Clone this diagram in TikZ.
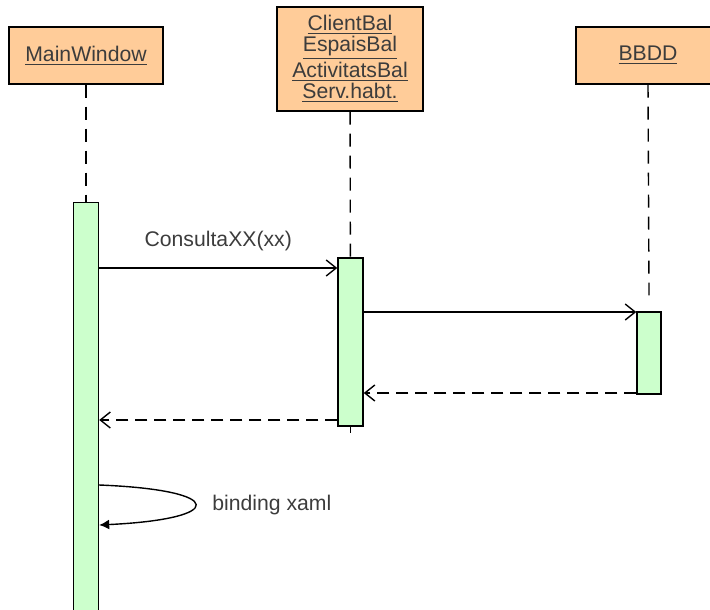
\documentclass[tikz,border=0pt]{standalone}
\usepackage{fontspec}
\setmainfont{Liberation Sans}
\usetikzlibrary{arrows.meta}
\definecolor{objfill}{RGB}{255,204,153}
\definecolor{actfill}{RGB}{204,255,204}
\definecolor{labelgray}{RGB}{60,60,60}
\begin{document}
\begin{tikzpicture}[x=0.5pt,y=-0.5pt,line width=0.7pt,
    font=\fontsize{10.6}{10.6}\selectfont,text=labelgray,
    obj/.style={draw,fill=objfill,inner sep=0pt,align=center},
    act/.style={draw,fill=actfill,inner sep=0pt,minimum width=12.5pt},
    life/.style={dash pattern=on 6.5pt off 4.5pt},
    call/.style={-{Straight Barb[length=5pt,width=8pt]}},
    back/.style={-{Straight Barb[length=5pt,width=8pt]},dash pattern=on 6pt off 3.5pt},
    self/.style={-{Latex[length=5pt,width=5pt]}}]

          \useasboundingbox (0,0) rectangle (710,609);

          \node[obj,minimum width=77pt,minimum height=28.5pt]  (mw) at (86,55.5)  {\underline{MainWindow}};
          \node[obj,minimum width=73pt,minimum height=52pt]    (cb) at (350,59)
               {\underline{ClientBal}\\\underline{EspaisBal}\\\underline{ActivitatsBal}\\\underline{Serv.habt.}};
          \node[obj,minimum width=72pt,minimum height=28.5pt]  (db) at (648,55.5) {\underline{BBDD}};

          \node[act,minimum height=205pt] (mwbar) at (86,407.5)  {};
          \node[act,minimum height=84pt]  (cbbar) at (350.5,342) {};
          \node[act,minimum width=12pt,minimum height=41pt] (dbbar) at (649,353) {};

          \coordinate (ycall)  at (0,268);
          \coordinate (yquery) at (0,312);
          \coordinate (yres)   at (0,393);
          \coordinate (yret)   at (0,420);
          \coordinate (ybind)  at (0,485);
          \coordinate (ybound) at (0,525);
          \coordinate (cbend)  at (350.5,433);

          \draw[life] (mw) -- (mwbar);
          \draw[life] (cb) -- (cbbar);
          \draw[life] (cbbar) -- (cbend);
          \draw[life] (db.south) -- ([yshift=8pt]dbbar.north);

          \draw[call] (mwbar.east |- ycall) -- node[above=5pt] {ConsultaXX(xx)} (cbbar.west |- ycall);
          \draw[call] (cbbar.east |- yquery) -- (dbbar.west |- yquery);
          \draw[back] (dbbar.west |- yres) -- (cbbar.east |- yres);
          \draw[back] (cbbar.west |- yret) -- (mwbar.east |- yret);
          \draw[self] (mwbar.east |- ybind) .. controls (227,490) and (227,519) .. (mwbar.east |- ybound);
          \node[anchor=west] (bind) at (205,505) {binding xaml};
        \end{tikzpicture}
\end{document}
